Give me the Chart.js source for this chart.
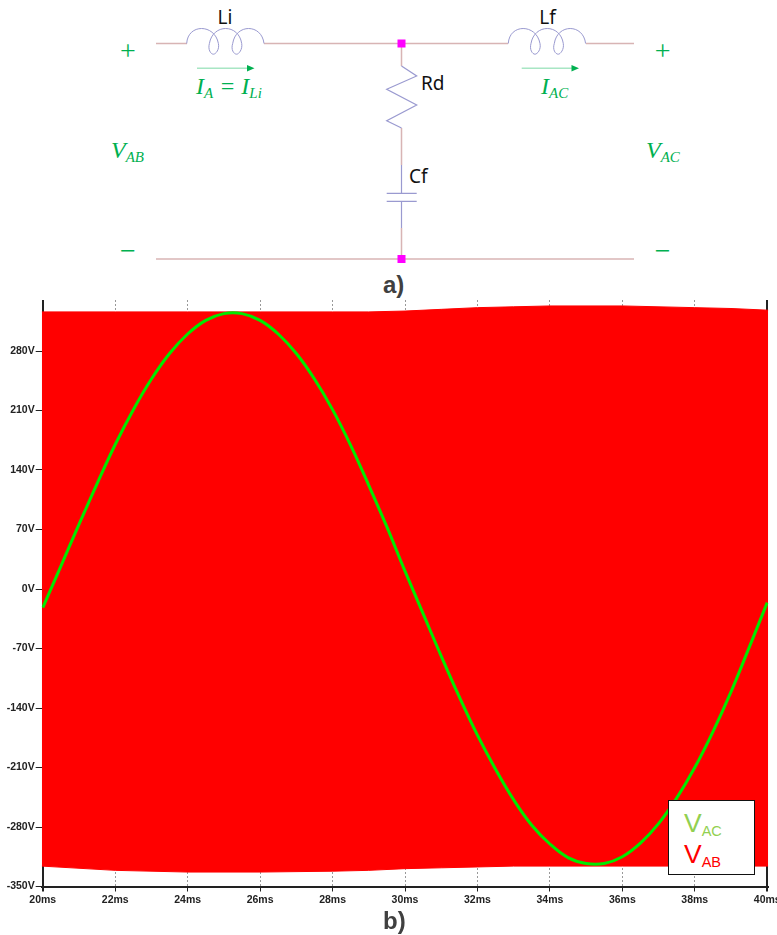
<!doctype html>
<html lang="en">
<head>
<meta charset="utf-8">
<script src="https://cdn.jsdelivr.net/npm/chart.js@4"></script>
<style>
  html, body { margin: 0; padding: 0; background: #fff; width: 777px; height: 935px; overflow: hidden; }
  #circuit { position: absolute; left: 0; top: 0; }
  #wrap { position: absolute; left: 0; top: 290px; }
  .caption { position: absolute; font: bold 24px "Liberation Sans", sans-serif; color: #404040; }
  #legend { position: absolute; left: 668px; top: 800px; width: 85px; height: 73px; border: 1px solid #111; background: #fff;
            font: 26.5px "Liberation Sans", sans-serif; line-height: 34px; padding: 0; }
  #legend div { position: absolute; left: 15px; }
  #legend sub { font-size: 14.5px; vertical-align: -4px; line-height: 0; }
</style>
</head>
<body>

<!-- part a) circuit -->
<svg id="circuit" width="777" height="290" xmlns="http://www.w3.org/2000/svg">
  <defs>
    <path id="coil" fill="none" stroke="#9a9ad0" stroke-width="1"
      d="M0 0 C1,-20 28,-20 31.7,0 C33,6 29,10.7 26.7,10.7 C24,10.7 21,6 22.7,0 C26,-20 52,-20 55,0 C56,6 52,10.7 50,10.7 C47,10.7 44,6 46,0 C49,-20 75,-20 77.3,0"/>
  </defs>
  <g stroke="#d8b4b4" stroke-width="1.5" fill="none">
    <path d="M156 43.5H187M264 43.5H508M586 43.5H634"/>
    <path d="M156 259H634"/>
    <path d="M401.5 43.5V66M401.5 128V165M401.5 228V259"/>
  </g>
  <g stroke="#9a9ad0" stroke-width="1.2" fill="none">
    <path d="M401.5 66L416.7 76L386.7 89.3L416.7 105L386.7 120.7L401.5 128"/>
    <path d="M401.5 165V193M401.5 201.5V228"/>
    <path d="M386.7 193.3H416.7M386.7 201.3H416.7"/>
  </g>
  <use href="#coil" x="186.7" y="43.5"/>
  <use href="#coil" x="508.3" y="43.5"/>
  <rect x="397.5" y="39.5" width="8" height="8" fill="#ff00ff"/>
  <rect x="397.5" y="255" width="8" height="8" fill="#ff00ff"/>
  <g stroke="#a8e6c4" stroke-width="1.5">
    <path d="M197 68.3H248M521.7 68.3H572"/>
  </g>
  <g fill="#00b050">
    <path d="M254.5 68.3L247 65V71.6Z"/>
    <path d="M579 68.3L571.5 65V71.6Z"/>
  </g>
  <g font-family="'Noto Sans', sans-serif" font-size="19" fill="#111">
    <text x="225" y="24" text-anchor="middle">Li</text>
    <text x="547.5" y="24" text-anchor="middle">Lf</text>
    <text x="421" y="90">Rd</text>
    <text x="409" y="183">Cf</text>
  </g>
  <g font-family="'Liberation Serif', serif" font-size="28" fill="#00b050" text-anchor="middle">
    <text x="128" y="59.5">+</text>
    <text x="662.7" y="59.5">+</text>
    <text x="128" y="260">−</text>
    <text x="662.7" y="260">−</text>
  </g>
  <g font-family="'Liberation Serif', serif" font-style="italic" font-size="24" fill="#00b050">
    <text x="111" y="158">V<tspan font-size="15" dy="4">AB</tspan></text>
    <text x="646" y="158">V<tspan font-size="15" dy="4">AC</tspan></text>
    <text x="196" y="94">I<tspan font-size="15" dy="4">A</tspan><tspan dy="-4"> = I</tspan><tspan font-size="15" dy="4">Li</tspan></text>
    <text x="541" y="94">I<tspan font-size="15" dy="4">AC</tspan></text>
  </g>
</svg>
<div class="caption" style="left:383px; top:271px">a)</div>

<!-- part b) waveform -->
<div id="wrap"><canvas id="chart" width="790" height="625"></canvas></div>
<div id="legend">
  <div style="top:5px; color:#92d050">V<sub>AC</sub></div>
  <div style="top:36px; color:#ff0000">V<sub>AB</sub></div>
</div>
<div class="caption" style="left:383px; top:907px">b)</div>

<script>
// values (time in ms, volts)
const vacTime = [20, 20.5, 21, 21.5, 22, 22.5, 23, 23.5, 24, 24.5, 25, 25.5, 26, 26.5, 27, 27.5, 28, 28.5, 29, 29.5,
  30, 30.5, 31, 31.5, 32, 32.5, 33, 33.5, 34, 34.5, 35, 35.5, 36, 36.5, 37, 37.5, 38, 38.5, 39, 39.5, 40];
const vacValues = [-22, 27, 76, 124, 170, 211, 247, 277, 300, 316, 324, 324, 316, 300, 277, 247, 211, 169, 122, 73,
  21, -29, -79, -127, -172, -212, -248, -278, -300, -316, -323, -323, -315, -299, -276, -246, -210, -168, -121, -69, -16];
// envelope runs a hair past both ends of the axis, red spills over the axis line in the source
const envTime = [19.97, 22, 24, 26, 28, 29, 30, 31, 32, 33, 34, 36, 38, 39, 40.03];
const vabUpper = [326, 326, 326, 326, 326, 326, 327, 329, 331, 332, 333, 333, 331, 330, 328];
const vabLower = [-326, -331, -333, -333, -332, -331, -329, -328, -327, -326, -326, -326, -326, -326, -326];
const yTicks = [-350, -280, -210, -140, -70, 0, 70, 140, 210, 280];
const xTicks = [20, 22, 24, 26, 28, 30, 32, 34, 36, 38, 40];

const pairs = (xs, ys) => xs.map((x, i) => ({ x: x, y: ys[i] }));
const tickFont = { family: "'Liberation Sans', sans-serif", size: 10.5, weight: 'bold' };
const isEnd = (ctx) => ctx.tick && (ctx.tick.value === 20 || ctx.tick.value === 40);

new Chart(document.getElementById('chart'), {
  type: 'line',
  data: {
    datasets: [
      { label: 'VAC', data: pairs(vacTime, vacValues), borderColor: '#00ea00', borderWidth: 3, pointRadius: 0, tension: 0.4, fill: false },
      { label: 'VAB', data: pairs(envTime, vabUpper), borderColor: '#ff0000', borderWidth: 1, pointRadius: 0, fill: '+1', backgroundColor: '#ff0000' },
      { label: 'VAB lower', data: pairs(envTime, vabLower), borderColor: '#ff0000', borderWidth: 1, pointRadius: 0, fill: false }
    ]
  },
  options: {
    responsive: false,
    animation: false,
    events: [],
    layout: { padding: { top: 10, right: 21.7, bottom: 8.5, left: 0 } },
    plugins: { legend: { display: false }, tooltip: { enabled: false } },
    scales: {
      x: {
        type: 'linear', min: 19.97, max: 40.03,
        afterBuildTicks: (scale) => { scale.ticks = xTicks.map((v) => ({ value: v })); },
        afterFit: (scale) => { scale.height = 20; scale.paddingLeft = 0; scale.paddingRight = 0; },
        ticks: { font: tickFont, color: '#222', padding: 2, maxRotation: 0, callback: (v) => v + 'ms' },
        grid: {
          color: (ctx) => isEnd(ctx) ? '#222' : '#999',
          lineWidth: (ctx) => isEnd(ctx) ? 2 : 1,
          tickColor: '#222', tickLength: 5
        },
        border: { color: '#222', width: 2, dash: (ctx) => isEnd(ctx) ? [] : [2, 2] }
      },
      y: {
        min: -350, max: 340,
        afterBuildTicks: (scale) => { scale.ticks = yTicks.map((v) => ({ value: v })); },
        afterFit: (scale) => { scale.width = 41.7; scale.paddingTop = 0; scale.paddingBottom = 0; },
        ticks: { font: tickFont, color: '#222', padding: 1, callback: (v) => v + 'V' },
        grid: { drawOnChartArea: false, tickColor: '#222', tickLength: 6 },
        border: { display: false }
      }
    }
  }
});
</script>
</body>
</html>
